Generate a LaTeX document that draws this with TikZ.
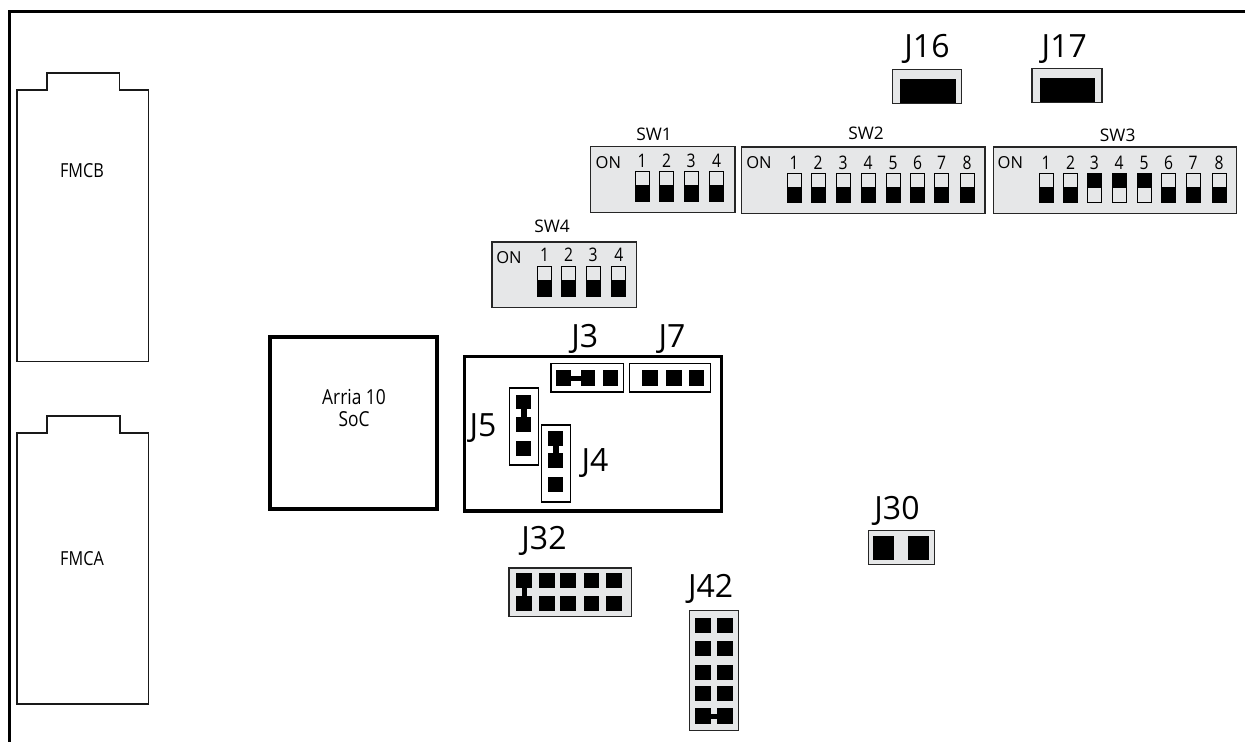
\documentclass[tikz,border=0pt]{standalone}
\usepackage{fontspec}
\setmainfont{Open Sans}
\newfontfamily\narrowfont[FakeStretch=0.84]{Open Sans}
\definecolor{panel}{HTML}{E6E7E8}
\tikzset{
  frameline/.style={draw=black,line width=2.9pt},
  thickbox/.style={draw=black,line width=2.5pt,fill=white},
  outline/.style={draw=black!90,line width=1pt,fill=white},
  panelbox/.style={draw=black!85,line width=1.1pt,fill=panel},
  jumperbox/.style={draw=black,line width=1.1pt,fill=white},
  pad/.style={fill=black},
  togglebox/.style={draw=black,line width=.7pt,fill=panel},
  big/.style={inner sep=0pt,font=\fontsize{24}{24}\selectfont},
  mid/.style={inner sep=0pt,font=\fontsize{13}{14}\selectfont},
  small/.style={inner sep=0pt,font=\fontsize{12.4}{13}\selectfont},
  digit/.style={inner sep=0pt,font=\narrowfont\fontsize{14}{14}\selectfont},
  chip/.style={inner sep=0pt,align=center,font=\narrowfont\fontsize{14.5}{16.5}\selectfont},
}
\newcommand{\padbox}[4]{\fill[pad] (#1,#2) rectangle (#3,#4);}
% centre x, top, middle, bottom
\newcommand{\togdown}[4]{\draw[togglebox] (#1-7,#2) rectangle (#1+7,#4); \fill[pad] (#1-7,#3) rectangle (#1+7,#4);}
\newcommand{\togup}[4]{\draw[togglebox] (#1-7,#2) rectangle (#1+7,#4); \fill[pad] (#1-7,#2) rectangle (#1+7,#3);}
\begin{document}
\begin{tikzpicture}[x=0.75pt,y=-0.75pt]
\useasboundingbox (0,0) rectangle (1245,742);
\draw[frameline] (9.5,742) -- (9.5,11.5) -- (1245,11.5);

% FMC connectors
\draw[outline] (17,361.5) -- (17,90) -- (47,90) -- (47,73) -- (119.5,73) -- (119.5,90) -- (148.5,90) -- (148.5,361.5) -- cycle;
\draw[outline] (17,704) -- (17,433) -- (47,433) -- (47,416) -- (120,416) -- (120,433) -- (148.5,433) -- (148.5,704) -- cycle;
\node[chip] (fmcb) at (82,171) {FMCB};
\node[chip] (fmca) at (82,559) {FMCA};

% SoC
\draw[thickbox] (270,337) rectangle (437,509);
\node[chip,font=\narrowfont\fontsize{15.5}{16.5}\selectfont] (soc) at (354,408) {Arria 10\\SoC};

% J16, J17
\draw[panelbox] (892.5,69.3) rectangle (961.7,103.3);
\padbox{900}{78.7}{955.7}{103.3}
\draw[panelbox] (1032,68.7) rectangle (1102,102.3);
\padbox{1039.7}{77.7}{1094.8}{102.3}
\node[big] (j16) at (927,49) {J16};
\node[big] (j17) at (1064.3,49) {J17};

% SW1
\draw[panelbox] (590.6,146.7) rectangle (735.2,212.3);
\node[mid] (sw1) at (654,134) {SW1};
\node[small] (sw1on) at (608.4,163) {ON};
\foreach \n/\x in {1/642,2/666.5,3/691,4/716.5}{
  \togdown{\x}{171.7}{185}{201}
  \node[digit] (sw1n\n) at (\x,161) {\n};
}
% SW2
\draw[panelbox] (741.6,147) rectangle (985,213.3);
\node[mid] (sw2) at (866,133) {SW2};
\node[small] (sw2on) at (759,163) {ON};
\foreach \n/\x in {1/794,2/818,3/843,4/868,5/893,6/917.5,7/941.7,8/967}{
  \togdown{\x}{173}{187}{202.3}
  \node[digit] (sw2n\n) at (\x,163) {\n};
}
% SW3
\draw[panelbox] (993.5,147) rectangle (1236.5,213.3);
\node[mid] (sw3) at (1117.7,135) {SW3};
\node[small] (sw3on) at (1010.4,163) {ON};
\foreach \n/\x in {1/1046,2/1070.5,6/1168.5,7/1193,8/1219}{
  \togdown{\x}{173}{187}{202.3}
  \node[digit] (sw3n\n) at (\x,163) {\n};
}
\foreach \n/\x in {3/1094.4,4/1119,5/1144}{
  \togup{\x}{173}{188.3}{202.3}
  \node[digit] (sw3n\n) at (\x,163) {\n};
}
% SW4
\draw[panelbox] (492,242) rectangle (636.7,307.7);
\node[mid] (sw4) at (552,226) {SW4};
\node[small] (sw4on) at (509,258) {ON};
\foreach \n/\x in {1/544.7,2/568.5,3/593,4/618.8}{
  \togdown{\x}{266}{280}{296}
  \node[digit] (sw4n\n) at (\x,255) {\n};
}

% Jumper block
\draw[thickbox] (464.7,356.7) rectangle (721.7,511);
\draw[jumperbox] (551,363.7) rectangle (623.7,392);
\padbox{556.3}{370.3}{571}{385.7}
\padbox{580.7}{370.3}{595.3}{385.7}
\padbox{602.7}{370.3}{618}{385.7}
\padbox{570}{375.5}{582}{380.5}
\draw[jumperbox] (629.7,363.7) rectangle (710.7,392);
\padbox{642.3}{370.3}{658}{385.7}
\padbox{666}{370.3}{681.7}{385.7}
\padbox{689}{370.3}{704.3}{385.7}
\draw[jumperbox] (509.3,388) rectangle (538.3,465);
\padbox{516}{394.7}{531.3}{409.3}
\padbox{516}{417.3}{531.3}{432.3}
\padbox{516}{441}{531.3}{456.3}
\padbox{521}{408}{526.5}{418}
\draw[jumperbox] (541.7,425) rectangle (570.3,502);
\padbox{548}{431}{563.3}{446}
\padbox{548}{453}{563.3}{468.3}
\padbox{548}{477}{563.3}{492.3}
\padbox{553}{445}{558.5}{454}
\node[big] (j3) at (584.7,339) {J3};
\node[big] (j7) at (672,339) {J7};
\node[big] (j5) at (483,428) {J5};
\node[big] (j4) at (595,463) {J4};

% J30
\draw[panelbox] (868.7,530.7) rectangle (934.3,564.3);
\padbox{873.3}{535.7}{894.3}{560}
\padbox{908}{535.7}{929.3}{560}
\node[big] (j30) at (897,511) {J30};

% J32
\draw[panelbox] (509,568) rectangle (631.3,616.7);
\foreach \a/\b in {516.3/532,539/554.7,560/575.7,583.7/599.3,606.3/622}{
  \padbox{\a}{573.3}{\b}{588.3}
  \padbox{\a}{596}{\b}{611.3}
}
\padbox{521.5}{587}{526.7}{597}
\node[big] (j32) at (544,541) {J32};

% J42
\draw[panelbox] (689.7,610.7) rectangle (738.3,730.7);
\foreach \a/\b in {618.3/633.3,641/656,664.7/680,685.7/701,708.3/723.7}{
  \padbox{695}{\a}{710.7}{\b}
  \padbox{717.3}{\a}{733}{\b}
}
\padbox{710}{713.5}{718}{718.5}
\node[big] (j42) at (710.7,588.5) {J42};
\end{tikzpicture}
\end{document}
